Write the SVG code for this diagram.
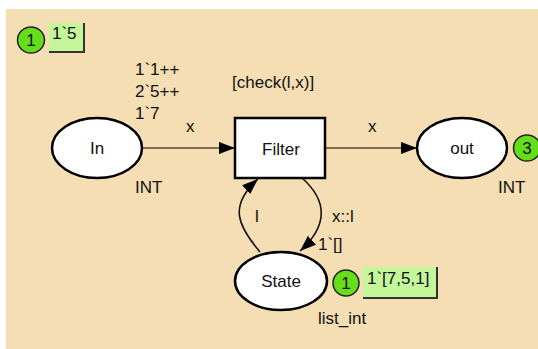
<svg xmlns="http://www.w3.org/2000/svg" width="538" height="349" viewBox="0 0 538 349">
<defs>
<style>
text{font-family:"Liberation Sans",Arial,sans-serif;font-size:17px;fill:#111}
.place{fill:#fff;stroke:#000;stroke-width:2.5}
.trans{fill:#fff;stroke:#000;stroke-width:2.5}
.arc{fill:none;stroke:#111;stroke-width:1.6}
.harc{fill:none;stroke:#7d6e55;stroke-width:2}
.tok{fill:#66dd1a;stroke:#222;stroke-width:1.5}
.mark{fill:#c4f79a}
.shadow{fill:none;stroke:#333;stroke-width:2}
.c{text-anchor:middle}
</style>
<marker id="ah" viewBox="0 0 16 12" refX="16" refY="6" markerWidth="16" markerHeight="12" markerUnits="userSpaceOnUse" orient="auto">
<path d="M0,0 L16,6 L0,12 Z" fill="#000"/>
</marker>
</defs>
<rect x="0" y="0" width="538" height="349" fill="#fff"/>
<rect x="6" y="9" width="532" height="340" fill="#f5deb3"/>

<g id="connectors">
<path class="harc" d="M142,148 L235,148" marker-end="url(#ah)"/>
<path class="harc" d="M325,148 L417,148" marker-end="url(#ah)"/>
<path class="arc" d="M260,252 C238,226 228,206 258,179" marker-end="url(#ah)"/>
<path class="arc" d="M302,178 C328,201 328,226 300,251" marker-end="url(#ah)"/>
<text x="186" y="132">x</text>
<text x="368" y="132">x</text>
<text x="255" y="222">l</text>
<text x="332" y="222">x::l</text>
</g>

<g id="In">
<ellipse class="place" cx="97" cy="148" rx="45" ry="30"/>
<text class="c" x="97" y="154">In</text>
<text x="135" y="193">INT</text>
<text x="135" y="75">1`1++</text>
<text x="135" y="97">2`5++</text>
<text x="135" y="119">1`7</text>
<ellipse class="tok" cx="31" cy="40" rx="13.5" ry="13"/>
<text class="c" x="31" y="46">1</text>
<rect class="mark" x="49" y="23" width="35" height="29"/>
<path class="shadow" d="M84,23 L84,52 L49,52"/>
<text x="52" y="39">1`5</text>
</g>

<g id="Filter">
<rect class="trans" x="235" y="118" width="90" height="60"/>
<text class="c" x="281" y="155">Filter</text>
<text x="232" y="88">[check(l,x)]</text>
</g>

<g id="out">
<ellipse class="place" cx="462" cy="148" rx="45" ry="30"/>
<text class="c" x="462" y="154">out</text>
<text x="498" y="193">INT</text>
<ellipse class="tok" cx="527" cy="148" rx="13.5" ry="13"/>
<text class="c" x="527" y="154">3</text>
</g>

<g id="State">
<ellipse class="place" cx="281" cy="281" rx="46" ry="29"/>
<text class="c" x="281" y="287">State</text>
<text x="318" y="324">list_int</text>
<text x="318" y="250">1`[]</text>
<ellipse class="tok" cx="346" cy="283" rx="13" ry="13"/>
<text class="c" x="346" y="289">1</text>
<rect class="mark" x="363" y="267" width="74" height="31"/>
<path class="shadow" d="M437,267 L437,298 L363,298"/>
<text x="367" y="284">1`[7,5,1]</text>
</g>
</svg>
